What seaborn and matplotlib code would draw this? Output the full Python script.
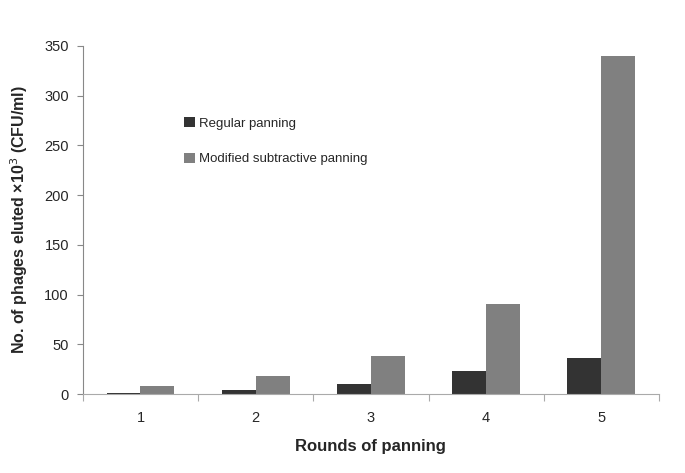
import numpy as np
import pandas as pd
import matplotlib
matplotlib.use("Agg")
import matplotlib.pyplot as plt
import seaborn as sns

rounds = ["1", "2", "3", "4", "5"]
regular = [1.5, 4, 10, 23, 36]
modified = [8, 18, 38, 90, 340]
series = ["Regular panning", "Modified subtractive panning"]

df = pd.DataFrame({
    "round": rounds * 2,
    "value": regular + modified,
    "method": [series[0]] * 5 + [series[1]] * 5,
})

sns.set_style("white")
plt.rcParams["font.family"] = ["Liberation Sans", "DejaVu Sans"]

fig = plt.figure(figsize=(6.85, 4.73), dpi=100)
ax = fig.add_axes([0.121, 0.167, 0.841, 0.736])

sns.barplot(data=df, x="round", y="value", hue="method", ax=ax,
            palette=["#333333", "#808080"], width=0.59, saturation=1,
            edgecolor="none")

ax.set_ylim(0, 350)
ax.set_xlim(-0.5, 4.5)
ax.set_yticks(np.arange(0, 351, 50))
ax.tick_params(axis="y", which="major", left=True, direction="out", length=4,
               color="#888888", labelsize=10.5, pad=6)
ax.tick_params(axis="x", which="major", bottom=False, length=0,
               labelsize=10.5, pad=12)
ax.set_xticks(np.arange(-0.5, 5, 1), minor=True)
ax.tick_params(axis="x", which="minor", bottom=True, direction="out",
               length=5, width=0.8, color="#aaaaaa")

for s in ["top", "right"]:
    ax.spines[s].set_visible(False)
ax.spines["left"].set_color("#888888")
ax.spines["bottom"].set_color("#aaaaaa")

ax.set_xlabel("Rounds of panning", fontsize=12, fontweight="bold", labelpad=10)
ax.set_ylabel("No. of phages eluted \u00d710$^3$ (CFU/ml)", fontsize=11.5,
              fontweight="bold", labelpad=10)

ax.legend(loc="upper left", bbox_to_anchor=(0.155, 0.83), frameon=False,
          fontsize=9.5, handlelength=0.8, handleheight=0.8, handletextpad=0.3,
          labelspacing=1.75, title=None)

fig.savefig("out.png", dpi=100)
